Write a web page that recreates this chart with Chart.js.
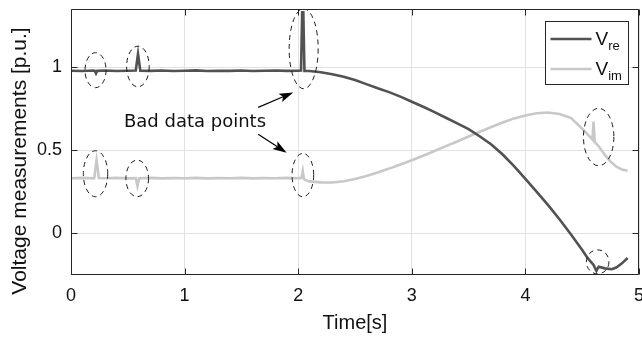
<!DOCTYPE html>
<html>
<head>
<meta charset="utf-8">
<script src="https://cdn.jsdelivr.net/npm/chart.js@4/dist/chart.umd.min.js"></script>
<style>
  html, body { margin: 0; padding: 0; background: #fff; }
  #wrap { width: 642px; height: 337px; position: relative; }
</style>
</head>
<body>
<div id="wrap"><canvas id="voltage-chart"></canvas></div>
<script>
// real part of the voltage
const timeRe = [0, 0.1, 0.2, 0.21, 0.22, 0.23, 0.3, 0.4, 0.5, 0.57, 0.58, 0.59, 0.6, 0.61, 0.7, 0.8, 0.9,
  1.0, 1.1, 1.2, 1.3, 1.4, 1.5, 1.6, 1.7, 1.8, 1.9, 2.0, 2.025, 2.035, 2.045, 2.055, 2.1, 2.2, 2.3, 2.4,
  2.5, 2.6, 2.7, 2.8, 2.9, 3.0, 3.1, 3.2, 3.3, 3.4, 3.5, 3.6, 3.7, 3.8, 3.9, 4.0, 4.1, 4.2, 4.3, 4.4,
  4.5, 4.55, 4.6, 4.625, 4.645, 4.7, 4.76, 4.8, 4.85, 4.9];
const vRe = [0.979, 0.977, 0.98, 0.978, 0.963, 0.978, 0.98, 0.977, 0.979, 0.98, 1.03, 1.08, 1.03, 0.979, 0.978, 0.98, 0.977,
  0.979, 0.981, 0.977, 0.979, 0.978, 0.98, 0.977, 0.979, 0.98, 0.978, 0.979, 0.98, 1.33, 1.33, 0.977, 0.977, 0.97, 0.958, 0.943,
  0.923, 0.898, 0.873, 0.85, 0.823, 0.792, 0.762, 0.73, 0.696, 0.662, 0.627, 0.583, 0.535, 0.475, 0.405, 0.328, 0.25, 0.17, 0.085, -0.005,
  -0.1, -0.15, -0.19, -0.225, -0.2, -0.21, -0.215, -0.205, -0.18, -0.148];

// imaginary part of the voltage
const timeIm = [0, 0.1, 0.2, 0.205, 0.215, 0.225, 0.235, 0.245, 0.3, 0.4, 0.5, 0.57, 0.585, 0.6, 0.7, 0.8, 0.9,
  1.0, 1.1, 1.2, 1.3, 1.4, 1.5, 1.6, 1.7, 1.8, 1.9, 2.0, 2.03, 2.04, 2.05, 2.06, 2.1, 2.2, 2.3, 2.4,
  2.5, 2.6, 2.7, 2.8, 2.9, 3.0, 3.1, 3.2, 3.3, 3.4, 3.5, 3.6, 3.7, 3.8, 3.9, 4.0, 4.1, 4.2, 4.3, 4.4,
  4.5, 4.55, 4.59, 4.6, 4.61, 4.65, 4.7, 4.75, 4.8, 4.85, 4.9];
const vIm = [0.332, 0.334, 0.331, 0.333, 0.39, 0.44, 0.39, 0.333, 0.332, 0.334, 0.331, 0.333, 0.285, 0.332, 0.334, 0.331, 0.333,
  0.332, 0.334, 0.331, 0.333, 0.332, 0.334, 0.331, 0.333, 0.332, 0.334, 0.332, 0.334, 0.375, 0.33, 0.322, 0.313, 0.307, 0.306, 0.314,
  0.327, 0.345, 0.367, 0.39, 0.415, 0.44, 0.467, 0.496, 0.525, 0.553, 0.583, 0.612, 0.64, 0.667, 0.692, 0.71, 0.723, 0.727, 0.718, 0.695,
  0.63, 0.595, 0.565, 0.673, 0.55, 0.52, 0.472, 0.432, 0.402, 0.385, 0.377];

const xTicks = [0, 1, 2, 3, 4, 5];
const yTicks = [0, 0.5, 1];

// annotation: dashed ellipses round the bad data (centre in data units)
const badT = [0.216, 0.589, 0.216, 0.583, 2.048, 2.041, 4.645, 4.636];
const badV = [0.982, 1.004, 0.359, 0.331, 1.111, 0.351, 0.58, -0.171];
const badRx = [10.5, 11.3, 12.2, 11.3, 14.5, 10.8, 15.2, 11.3];
const badRy = [17.5, 20.3, 23, 18.3, 40, 21.7, 28.7, 12];

// annotation: label and arrows
const noteText = "Bad data points";
const noteAt = [0.466, 0.641];
const arrowFrom = [[1.648, 0.758], [1.648, 0.597]];
const arrowTo = [[1.956, 0.848], [1.898, 0.485]];

const reColor = "#525252";
const imColor = "#c8c8c8";
const axisColor = "#262626";
const labelFont = '"Liberation Sans", Arial, sans-serif';

const matlabDecor = {
  id: "matlabDecor",
  afterDraw(chart) {
    const ctx = chart.ctx;
    const a = chart.chartArea;
    const x = chart.scales.x;
    const y = chart.scales.y;

    ctx.save();

    // ellipses
    ctx.save();
    ctx.beginPath();
    ctx.rect(a.left, a.top, a.right - a.left, a.bottom - a.top);
    ctx.clip();
    ctx.strokeStyle = "#1a1a1a";
    ctx.lineWidth = 1;
    ctx.setLineDash([5, 4]);
    badT.forEach((t, i) => {
      ctx.beginPath();
      ctx.ellipse(x.getPixelForValue(t), y.getPixelForValue(badV[i]), badRx[i], badRy[i], 0, 0, Math.PI * 2);
      ctx.stroke();
    });
    ctx.restore();

    // note text
    ctx.fillStyle = "#111";
    ctx.font = '18px "DejaVu Sans", sans-serif';
    ctx.textAlign = "left";
    ctx.textBaseline = "alphabetic";
    ctx.fillText(noteText, x.getPixelForValue(noteAt[0]), y.getPixelForValue(noteAt[1]));

    // arrows
    arrowFrom.forEach((from, i) => {
      const x0 = x.getPixelForValue(from[0]);
      const y0 = y.getPixelForValue(from[1]);
      const x1 = x.getPixelForValue(arrowTo[i][0]);
      const y1 = y.getPixelForValue(arrowTo[i][1]);
      const ang = Math.atan2(y1 - y0, x1 - x0);
      const headLen = 14;
      const headHalf = 4.5;
      const bx = x1 - headLen * Math.cos(ang);
      const by = y1 - headLen * Math.sin(ang);
      ctx.strokeStyle = "#000";
      ctx.lineWidth = 1.2;
      ctx.beginPath();
      ctx.moveTo(x0, y0);
      ctx.lineTo(bx + 3 * Math.cos(ang), by + 3 * Math.sin(ang));
      ctx.stroke();
      ctx.fillStyle = "#000";
      ctx.beginPath();
      ctx.moveTo(x1, y1);
      ctx.lineTo(bx - headHalf * Math.sin(ang), by + headHalf * Math.cos(ang));
      ctx.lineTo(bx + 3 * Math.cos(ang), by + 3 * Math.sin(ang));
      ctx.lineTo(bx + headHalf * Math.sin(ang), by - headHalf * Math.cos(ang));
      ctx.closePath();
      ctx.fill();
    });

    // frame and inward ticks
    const L = Math.round(a.left) + 0.5;
    const R = Math.round(a.right) - 0.5;
    const T = Math.round(a.top) + 0.5;
    const B = Math.round(a.bottom) - 0.5;
    ctx.strokeStyle = axisColor;
    ctx.lineWidth = 1;
    ctx.beginPath();
    ctx.rect(L, T, R - L, B - T);
    xTicks.forEach(v => {
      const px = Math.round(x.getPixelForValue(v)) + 0.5;
      ctx.moveTo(px, B); ctx.lineTo(px, B - 6);
      ctx.moveTo(px, T); ctx.lineTo(px, T + 6);
    });
    yTicks.forEach(v => {
      const py = Math.round(y.getPixelForValue(v)) + 0.5;
      ctx.moveTo(L, py); ctx.lineTo(L + 6, py);
      ctx.moveTo(R, py); ctx.lineTo(R - 6, py);
    });
    ctx.stroke();

    // legend
    const bw = 83, bh = 63;
    const bx0 = Math.round(a.right - 11 - bw) + 0.5;
    const by0 = Math.round(a.top + 12) + 0.5;
    ctx.fillStyle = "#fff";
    ctx.fillRect(bx0, by0, bw, bh);
    ctx.strokeStyle = axisColor;
    ctx.strokeRect(bx0, by0, bw, bh);
    const entries = [
      { color: reColor, main: "V", sub: "re", dy: 17.5 },
      { color: imColor, main: "V", sub: "im", dy: 47.5 }
    ];
    entries.forEach(e => {
      ctx.strokeStyle = e.color;
      ctx.lineWidth = 2.5;
      ctx.beginPath();
      ctx.moveTo(bx0 + 5, by0 + e.dy);
      ctx.lineTo(bx0 + 46, by0 + e.dy);
      ctx.stroke();
      ctx.fillStyle = "#111";
      ctx.textAlign = "left";
      ctx.font = "19px " + labelFont;
      ctx.fillText(e.main, bx0 + 50, by0 + e.dy + 6);
      const w = ctx.measureText(e.main).width;
      ctx.font = "13px " + labelFont;
      ctx.fillText(e.sub, bx0 + 50 + w, by0 + e.dy + 11);
    });

    // axis titles
    ctx.fillStyle = "#111";
    ctx.font = "20px " + labelFont;
    ctx.textAlign = "center";
    ctx.fillText("Time[s]", (a.left + a.right) / 2, 329);
    ctx.font = "21px " + labelFont;
    ctx.translate(26, 161);
    ctx.rotate(-Math.PI / 2);
    ctx.fillText("Voltage measurements [p.u.]", 0, 0);

    ctx.restore();
  }
};

function toPoints(ts, vs) {
  return ts.map((t, i) => ({ x: t, y: vs[i] }));
}

// fixed axis sizes, no extra room for overhanging labels
function fixBox(size) {
  return s => {
    if (s.isHorizontal()) s.height = size; else s.width = size;
    s.paddingTop = 0;
    s.paddingBottom = 0;
    s.paddingLeft = 0;
    s.paddingRight = 0;
  };
}

const chart = new Chart(document.getElementById("voltage-chart"), {
  type: "line",
  data: {
    datasets: [
      {
        label: "V_re",
        data: toPoints(timeRe, vRe),
        borderColor: reColor,
        borderWidth: 2.6,
        pointRadius: 0,
        tension: 0
      },
      {
        label: "V_im",
        data: toPoints(timeIm, vIm),
        borderColor: imColor,
        borderWidth: 2.6,
        pointRadius: 0,
        tension: 0
      }
    ]
  },
  options: {
    responsive: true,
    maintainAspectRatio: false,
    animation: false,
    layout: { autoPadding: false, padding: { top: 9, right: 3, left: 0, bottom: 0 } },
    plugins: {
      legend: { display: false },
      tooltip: { enabled: false }
    },
    scales: {
      x: {
        type: "linear",
        min: 0,
        max: 5,
        afterBuildTicks: s => { s.ticks = xTicks.map(v => ({ value: v })); },
        afterFit: fixBox(62),
        grid: { color: "#e2e2e2", drawTicks: false },
        border: { display: false },
        ticks: {
          padding: 10,
          color: "#111",
          font: { family: labelFont, size: 18 },
          callback: v => String(v)
        }
      },
      y: {
        type: "linear",
        min: -0.25,
        max: 1.35,
        afterBuildTicks: s => { s.ticks = yTicks.map(v => ({ value: v })); },
        afterFit: fixBox(71),
        grid: { color: "#e2e2e2", drawTicks: false },
        border: { display: false },
        ticks: {
          padding: 9,
          color: "#111",
          font: { family: labelFont, size: 18 },
          callback: v => String(v)
        }
      }
    }
  },
  plugins: [matlabDecor]
});
</script>
</body>
</html>
